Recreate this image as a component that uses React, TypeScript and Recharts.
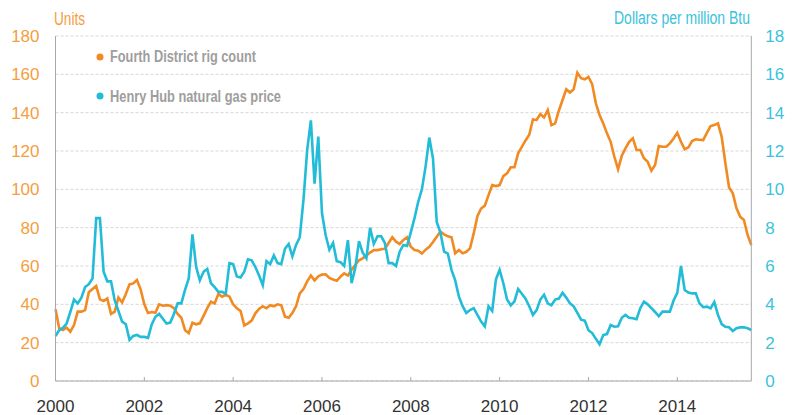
import React from "react";
import { CartesianGrid, Line, LineChart, XAxis, YAxis } from "recharts";

const ORANGE = "#F18A22";
const CYAN = "#22BCD8";
const ORANGE_TEXT = "#F59D40";
const CYAN_TEXT = "#3CC2DC";
const AXIS = "#a8a8a8";
const GRID = "#d6d6d6";
const LEGEND_TEXT = "#9e9e9e";
const FONT = "'Liberation Sans', Arial, sans-serif";
const NARROW = "'Liberation Sans Narrow', 'Liberation Sans', Arial, sans-serif";

// monthly, Jan 2000 .. Sep 2015
const rigCount = [
  37.4, 27.5, 26.6, 27.8, 25.7, 29.2, 36.2, 36.2, 37, 46.3, 48, 49.6,
  42.6, 41.7, 43.1, 35, 36.2, 43.6, 41, 45.4, 50.4, 50.9, 52.7, 47.8,
  40, 35.5, 36, 35.6, 40, 39.3, 39.6, 39.3, 38, 35, 33, 26.5,
  25, 30.4, 29.6, 30.1, 34, 38, 41.4, 40.5, 45.4, 44, 45, 44,
  40, 38, 36.5, 29, 30.1, 31.5, 35.3, 37.6, 39, 38, 39.5, 39,
  40, 39.5, 33.6, 33, 35.5, 39, 45.7, 48, 52, 55, 52.5, 54.6,
  55.5, 55.7, 53.8, 53, 52.3, 54.4, 56.2, 55, 58, 60.5, 63, 64,
  65.5, 67, 68.3, 68.3, 68.7, 69, 72, 75, 72.7, 71.5, 73.6, 75,
  70, 68.3, 68, 66.5, 68.5, 70, 72.5, 75.3, 78, 76.5, 75.5, 75,
  66.6, 68.3, 66.6, 67.4, 69.2, 77, 86, 90, 91.5, 97, 102.2, 101.7,
  102.2, 106.9, 108.3, 111.5, 111.5, 118.8, 122.2, 125.5, 128.5, 136.5, 136.2, 139.3,
  137.5, 141.4, 133.5, 134.4, 141, 146.6, 152.2, 150.5, 152.2, 160.8, 158, 157.4,
  158.7, 154.9, 144.9, 138.8, 134.4, 129.2, 124.8, 117, 110.5, 117.5, 121.4, 124.8,
  126.6, 120.5, 120.5, 116.2, 114.4, 109.7, 112.7, 122.6, 122.2, 122.2, 124, 126.5,
  129.5, 124.8, 120.9, 121.9, 125.2, 126.1, 125.9, 125.7, 129.5, 133, 133.5, 134.4,
  127.4, 113.6, 101, 97.9, 90.1, 85.7, 84, 76.2, 70.9,
];

const gasPrice = [
  2.35, 2.65, 2.77, 3.0, 3.6, 4.25, 4.05, 4.35, 4.9, 5.05, 5.35, 8.5,
  8.5, 5.7, 5.2, 5.2, 4.2, 3.65, 3.1, 2.96, 2.15, 2.35, 2.4, 2.3,
  2.3, 2.25, 2.95, 3.35, 3.5, 3.25, 3.0, 3.05, 3.5, 4.05, 4.05, 4.75,
  5.35, 7.65, 5.95, 5.25, 5.7, 5.85, 5.1, 4.9, 4.65, 4.65, 4.55, 6.15,
  6.1, 5.45, 5.4, 5.7, 6.35, 6.3, 5.95, 5.5, 5.0, 6.25, 6.1, 6.55,
  6.15, 6.1, 6.9, 7.15, 6.5, 7.1, 7.5, 9.45, 12.05, 13.6, 10.3, 12.75,
  8.75, 7.6, 6.85, 7.2, 6.25, 6.2, 6.0, 7.35, 5.1, 5.9, 7.3, 6.7,
  6.4, 8.0, 7.15, 7.55, 7.55, 7.2, 6.15, 6.15, 6.0, 6.75, 7.1, 7.05,
  7.75, 8.5, 9.35, 10.0, 11.2, 12.7, 11.6, 8.3, 7.75, 6.75, 6.65, 5.8,
  5.25, 4.4, 3.9, 3.55, 3.7, 3.8, 3.45, 3.1, 2.85, 3.9, 3.65, 5.3,
  5.8, 5.1, 4.25, 3.95, 4.15, 4.8, 4.55, 4.3, 3.9, 3.45, 3.7, 4.25,
  4.5, 4.05, 3.95, 4.25, 4.3, 4.6, 4.35, 4.05, 3.9, 3.55, 3.2, 3.15,
  2.65, 2.5, 2.2, 1.92, 2.4, 2.45, 2.92, 2.83, 2.85, 3.3, 3.45, 3.3,
  3.27, 3.22, 3.8, 4.14, 4.0, 3.8, 3.6, 3.38, 3.62, 3.62, 3.62, 4.2,
  4.6, 6.0, 4.75, 4.61, 4.57, 4.57, 4.05, 3.85, 3.88, 3.79, 4.12, 3.45,
  2.97, 2.83, 2.8, 2.61, 2.75, 2.8, 2.8, 2.75, 2.66,
];

const START_YEAR = 2000;
const yearTicks = [2000, 2002, 2004, 2006, 2008, 2010, 2012, 2014];
const unitTicks = [0, 20, 40, 60, 80, 100, 120, 140, 160, 180];
const dollarTicks = [0, 2, 4, 6, 8, 10, 12, 14, 16, 18];

const data = rigCount.map((v, i) => ({
  t: START_YEAR + i / 12,
  rig: v,
  gas: gasPrice[i],
}));

function YearTick(props: any) {
  const { x, y, payload } = props;
  return (
    <g>
      {payload.value !== START_YEAR && (
        <line x1={x} x2={x} y1={y - 4} y2={y} stroke={AXIS} strokeWidth={1} />
      )}
      <text x={x} y={y + 31} textAnchor="middle" fill="#333" fontSize={17} fontFamily={FONT}>
        {payload.value}
      </text>
    </g>
  );
}

export default function App() {
  return (
    <div style={{ position: "absolute", left: 0, top: 0, width: 801, height: 415, background: "#fff" }}>
      <LineChart width={801} height={415} data={data} margin={{ top: 36, right: 0, bottom: 0, left: 0 }}>
        <CartesianGrid yAxisId="left" vertical={false} stroke={GRID} strokeDasharray="3 2" />
        <XAxis
          dataKey="t"
          type="number"
          domain={[START_YEAR, START_YEAR + (rigCount.length - 1) / 12]}
          ticks={yearTicks}
          interval={0}
          height={34}
          tickSize={0}
          tickMargin={0}
          tickLine={false}
          axisLine={{ stroke: AXIS }}
          tick={<YearTick />}
        />
        <YAxis
          yAxisId="left"
          domain={[0, 180]}
          ticks={unitTicks}
          interval={0}
          width={55.5}
          tickSize={0}
          tickMargin={16}
          tickLine={false}
          axisLine={{ stroke: AXIS }}
          tick={{ fill: ORANGE_TEXT, fontSize: 17, fontFamily: FONT }}
        />
        <YAxis
          yAxisId="right"
          orientation="right"
          domain={[0, 18]}
          ticks={dollarTicks}
          interval={0}
          width={49.7}
          tickSize={0}
          tickMargin={14}
          tickLine={false}
          axisLine={{ stroke: AXIS }}
          tick={{ fill: CYAN_TEXT, fontSize: 17, fontFamily: FONT, textAnchor: "start" }}
        />
        <Line
          yAxisId="left"
          type="linear"
          dataKey="rig"
          stroke={ORANGE}
          strokeWidth={2.6}
          dot={false}
          isAnimationActive={false}
        />
        <Line
          yAxisId="right"
          type="linear"
          dataKey="gas"
          stroke={CYAN}
          strokeWidth={2.6}
          dot={false}
          isAnimationActive={false}
        />
      </LineChart>
      <svg
        width={801}
        height={415}
        style={{ position: "absolute", left: 0, top: 0, pointerEvents: "none" }}
      >
        <text x={54} y={24.5} fill={ORANGE_TEXT} fontSize={18} fontFamily={NARROW} textLength={31} lengthAdjust="spacingAndGlyphs">
          Units
        </text>
        <text x={614} y={23.5} fill={CYAN_TEXT} fontSize={17.5} fontFamily={NARROW} textLength={136} lengthAdjust="spacingAndGlyphs">
          Dollars per million Btu
        </text>
        <circle cx={100} cy={57} r={3.5} fill={ORANGE} />
        <text x={110} y={62.3} fill={LEGEND_TEXT} fontSize={16} fontWeight="bold" fontFamily={NARROW} textLength={146} lengthAdjust="spacingAndGlyphs">
          Fourth District rig count
        </text>
        <circle cx={100} cy={96} r={3.5} fill={CYAN} />
        <text x={110} y={101.5} fill={LEGEND_TEXT} fontSize={16} fontWeight="bold" fontFamily={NARROW} textLength={171} lengthAdjust="spacingAndGlyphs">
          Henry Hub natural gas price
        </text>
      </svg>
    </div>
  );
}
